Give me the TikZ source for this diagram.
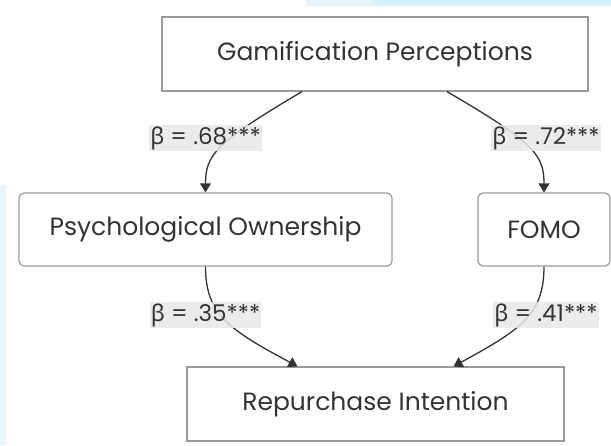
\documentclass[tikz,border=0pt]{standalone}
\usepackage{fontspec}
\setmainfont{Poppins}
\newfontfamily\grk{Noto Sans}
\newcommand{\bt}{{\grk β}}
\usetikzlibrary{arrows.meta,calc}
\definecolor{txt}{HTML}{333333}
\definecolor{boxline}{HTML}{9A9A9A}
\definecolor{lblbg}{HTML}{E8E8E8}
\definecolor{stripA}{HTML}{EAF4FD}
\definecolor{stripB}{HTML}{D6F3FC}
\definecolor{stripC}{HTML}{EAF6FE}
\tikzset{
  x=1pt, y=-1pt,
  sqbox/.style={draw=boxline, line width=1.2pt, fill=white, inner sep=0pt, text=txt, font=\fontsize{25}{30}\selectfont},
  rdbox/.style={sqbox, rounded corners=5pt},
  edge/.style={draw=txt, line width=1.3pt, -{Triangle[length=9pt,width=11pt]}},
  lbl/.style={fill=lblbg, fill opacity=0.85, text opacity=1, text=txt, inner xsep=1pt, inner ysep=0pt, minimum height=26pt, font=\fontsize{23}{27}\selectfont}
}
\begin{document}
\begin{tikzpicture}
\useasboundingbox (0,0) rectangle (611,445);
\fill[stripA] (306,0) rectangle (372,6);
\fill[stripB] (372,0) rectangle (611,6);
\fill[stripC] (0,185) rectangle (6,445);

\node[sqbox, minimum width=426pt, minimum height=74pt] (gam) at (375,54) {Gamification Perceptions};
\node[rdbox, minimum width=373pt, minimum height=73pt] (psy) at (205.5,229.5) {Psychological Ownership};
\node[rdbox, minimum width=132pt, minimum height=73pt] (fomo) at (544,229.5) {FOMO};
\node[sqbox, minimum width=377pt, minimum height=74pt] (rep) at (375.5,404) {Repurchase Intention};

\draw[edge] ($(gam.south)+(-73,0)$) .. controls (215,143) and (205.5,155) .. (psy.north);
\draw[edge] ($(gam.south)+(72,0)$) .. controls (535,143) and (544,155) .. (fomo.north);
\draw[edge] (psy.south) .. controls (205.5,315) and (230,330) .. ($(rep.north)+(-78,0)$);
\draw[edge] (fomo.south) .. controls (544,315) and (520,330) .. ($(rep.north)+(78,0)$);

\node[lbl] (l1) at (205.5,138) {\bt{} = .68***};
\node[lbl] (l2) at (546,138) {\bt{} = .72***};
\node[lbl] (l3) at (205.5,315) {\bt{} = .35***};
\node[lbl] (l4) at (546,315) {\bt{} = .41***};
\end{tikzpicture}
\end{document}
